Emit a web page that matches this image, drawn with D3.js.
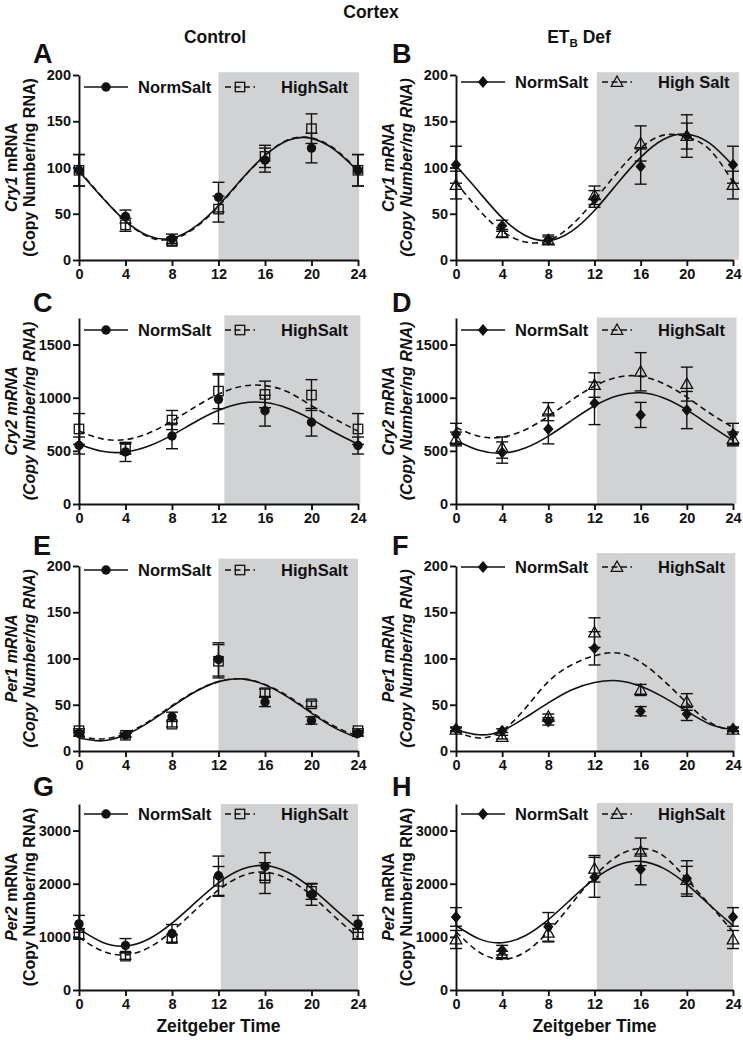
<!DOCTYPE html>
<html>
<head>
<meta charset="utf-8">
<script src="https://cdn.jsdelivr.net/npm/d3@7"></script>
<style>
  body { margin: 0; background: #fff; }
  svg text { font-family: "Liberation Sans", Arial, sans-serif; font-weight: bold; fill: #111; }
</style>
</head>
<body>
<svg id="chart" width="743" height="1040"></svg>
<script>
// sampling times (Zeitgeber time, h) and times used for the fitted curves
const hours = [0, 4, 8, 12, 16, 20, 24];
const fitHours = [0, 2, 4, 6, 8, 10, 12, 14, 16, 18, 20, 22, 24];
const xTicks = [0, 4, 8, 12, 16, 20, 24];
const ticks200 = [0, 50, 100, 150, 200];
const ticks1500 = [0, 500, 1000, 1500];
const ticks3000 = [0, 1000, 2000, 3000];

// A: Cry1, control
const normA = [97, 47, 23, 68, 108, 121, 97];
const normAErr = [17, 7, 5, 16, 13, 16, 17];
const highA = [97, 38, 20, 55, 112, 142, 97];
const highAErr = [17, 7, 4, 14, 12, 16, 17];
const fitNormA = [96, 67.5, 42, 26, 23.5, 36, 59, 87.5, 113, 129.5, 131.5, 119, 96];
const fitHighA = [97, 68, 42, 25, 22.5, 35, 58, 87, 113, 130, 132, 120, 97];

// B: Cry1, ETB def
const normB = [103, 37, 22, 66, 101, 134, 103];
const normBErr = [20, 6, 5, 9, 19, 14, 20];
const highB = [81, 29, 21, 70, 126, 134, 81];
const highBErr = [15, 4, 4, 10, 19, 23, 15];
const fitNormB = [102, 73.5, 45.5, 26.5, 21, 31, 53.5, 83, 111, 130.5, 136, 126, 102];
const fitHighB = [84, 54, 31, 19.5, 21, 37.5, 64.5, 95, 121, 135, 133, 119, 84];

// C: Cry2, control
const normC = [550, 490, 640, 985, 878, 769, 550];
const normCErr = [80, 90, 120, 230, 145, 130, 80];
const highC = [706, 519, 790, 1062, 1031, 1025, 706];
const highCErr = [145, 50, 90, 165, 125, 145, 145];
const fitNormC = [563, 496, 489, 545, 648, 772, 881, 948, 955, 899, 796, 672, 563];
const fitHighC = [686, 613, 606, 667, 780, 914, 1034, 1107, 1114, 1053, 925, 800, 686];

// D: Cry2, ETB def
const normD = [659, 484, 706, 947, 838, 884, 659];
const normDErr = [100, 100, 140, 200, 118, 175, 100];
const highD = [612, 531, 869, 1119, 1244, 1128, 612];
const highDErr = [65, 100, 85, 115, 180, 160, 65];
const fitNormD = [598, 505, 478, 527, 639, 784, 924, 1019, 1046, 997, 885, 740, 598];
const fitHighD = [720, 637, 629, 698, 825, 976, 1110, 1193, 1201, 1132, 1005, 854, 720];

// E: Per1, control
const normE = [19, 17, 37, 99, 53, 33, 19];
const normEErr = [3, 2, 5, 18, 5, 4, 3];
const highE = [22, 17, 29, 97, 63, 51, 22];
const highEErr = [2, 2, 3, 18, 4, 3, 2];
const fitNormE = [14, 11, 17.5, 31, 48, 64, 75, 78, 71.5, 58, 41, 25, 14];
const fitHighE = [16, 13, 19, 32, 49, 64.5, 75, 78, 72, 59, 42, 26.5, 16];

// F: Per1, ETB def
const normF = [24, 22, 32, 111, 43, 40, 24];
const normFErr = [2, 2, 4, 18, 5, 7, 2];
const highF = [23, 15, 37, 128, 66, 53, 23];
const highFErr = [2, 2, 3, 16, 6, 9, 2];
const fitNormF = [23, 17.5, 22, 36, 52, 66, 74, 76, 70, 58, 43, 29, 23];
const fitHighF = [21.5, 14, 22, 46, 75, 93, 103, 106, 96, 76, 52, 31, 21.5];

// G: Per2, control
const normG = [1244, 838, 1062, 2150, 2325, 1794, 1244];
const normGErr = [160, 130, 170, 370, 260, 200, 160];
const highG = [1056, 637, 969, 2044, 2106, 1856, 1056];
const highGErr = [100, 60, 70, 280, 290, 150, 100];
const fitNormG = [1149, 899, 827, 959, 1257, 1644, 2017, 2271, 2343, 2211, 1913, 1526, 1149];
const fitHighG = [992, 736, 662, 797, 1104, 1501, 1883, 2144, 2218, 2083, 1776, 1379, 992];

// H: Per2, ETB def
const normH = [1375, 750, 1188, 2120, 2270, 2098, 1375];
const normHErr = [175, 90, 270, 375, 290, 335, 175];
const highH = [950, 669, 1075, 2281, 2600, 2067, 950];
const highHErr = [170, 60, 170, 250, 260, 260, 170];
const fitNormH = [1214, 962, 889, 1022, 1324, 1715, 2091, 2349, 2421, 2288, 1986, 1595, 1214];
const fitHighH = [1097, 715, 575, 715, 1097, 1618, 2140, 2521, 2661, 2521, 2080, 1600, 1097];

const svg = d3.select("#chart");
const cols = [{ x0: 79, x1: 358 }, { x0: 456, x1: 733 }];
const rows = [{ top: 75, bottom: 260 }, { top: 318, bottom: 504 }, { top: 566, bottom: 751 }, { top: 804, bottom: 990 }];
const letterY = [63, 312, 555, 796];

const panels = [
  { letter: "A", col: 0, row: 0, gene: "Cry1", italic: false, yMax: 200, yTicks: ticks200,
    norm: normA, normErr: normAErr, high: highA, highErr: highAErr, fitNorm: fitNormA, fitHigh: fitHighA,
    highLabel: "HighSalt", shade: [12, 24.1, 203], legendDy: 12 },
  { letter: "B", col: 1, row: 0, gene: "Cry1", italic: true, yMax: 200, yTicks: ticks200,
    norm: normB, normErr: normBErr, high: highB, highErr: highBErr, fitNorm: fitNormB, fitHigh: fitHighB,
    highLabel: "High Salt", shade: [12.2, 24.5, 203], legendDy: 7 },
  { letter: "C", col: 0, row: 1, gene: "Cry2", italic: true, yMax: 1750, yTicks: ticks1500,
    norm: normC, normErr: normCErr, high: highC, highErr: highCErr, fitNorm: fitNormC, fitHigh: fitHighC,
    highLabel: "HighSalt", shade: [12.5, 24.2, 1775], legendDy: 12 },
  { letter: "D", col: 1, row: 1, gene: "Cry2", italic: true, yMax: 1750, yTicks: ticks1500,
    norm: normD, normErr: normDErr, high: highD, highErr: highDErr, fitNorm: fitNormD, fitHigh: fitHighD,
    highLabel: "HighSalt", shade: [12.2, 24.3, 1755], legendDy: 12 },
  { letter: "E", col: 0, row: 2, gene: "Per1", italic: true, yMax: 200, yTicks: ticks200,
    norm: normE, normErr: normEErr, high: highE, highErr: highEErr, fitNorm: fitNormE, fitHigh: fitHighE,
    highLabel: "HighSalt", shade: [12, 24, 208], legendDy: 4 },
  { letter: "F", col: 1, row: 2, gene: "Per1", italic: true, yMax: 200, yTicks: ticks200,
    norm: normF, normErr: normFErr, high: highF, highErr: highFErr, fitNorm: fitNormF, fitHigh: fitHighF,
    highLabel: "HighSalt", shade: [12.2, 24.2, 214], legendDy: 1 },
  { letter: "G", col: 0, row: 3, gene: "Per2", italic: false, yMax: 3500, yTicks: ticks3000,
    norm: normG, normErr: normGErr, high: highG, highErr: highGErr, fitNorm: fitNormG, fitHigh: fitHighG,
    highLabel: "HighSalt", shade: [12.2, 24, 3500], legendDy: 10 },
  { letter: "H", col: 1, row: 3, gene: "Per2", italic: false, yMax: 3500, yTicks: ticks3000,
    norm: normH, normErr: normHErr, high: highH, highErr: highHErr, fitNorm: fitNormH, fitHigh: fitHighH,
    highLabel: "HighSalt", shade: [12.2, 24, 3520], legendDy: 10 }
];

// marker shapes: filled circle / open square (control), filled diamond / open triangle (ETB def)
function marker(g, kind, cx, cy) {
  if (kind === "circle") {
    g.append("circle").attr("cx", cx).attr("cy", cy).attr("r", 4.7).attr("fill", "#111");
  } else if (kind === "square") {
    g.append("rect").attr("x", cx - 4.7).attr("y", cy - 4.7).attr("width", 9.4).attr("height", 9.4)
      .attr("fill", "none").attr("stroke", "#111").attr("stroke-width", 1.3);
  } else if (kind === "diamond") {
    g.append("path").attr("d", `M${cx},${cy - 6}L${cx + 5.2},${cy}L${cx},${cy + 6}L${cx - 5.2},${cy}Z`)
      .attr("fill", "#111");
  } else {
    g.append("path").attr("d", `M${cx},${cy - 6}L${cx + 5.8},${cy + 4.3}L${cx - 5.8},${cy + 4.3}Z`)
      .attr("fill", "none").attr("stroke", "#111").attr("stroke-width", 1.3);
  }
}

panels.forEach(p => {
  const c = cols[p.col], r = rows[p.row];
  const x = d3.scaleLinear().domain([0, 24]).range([c.x0, c.x1]);
  const y = d3.scaleLinear().domain([0, p.yMax]).range([r.bottom, r.top]);
  const g = svg.append("g");
  const kinds = p.col === 0 ? ["circle", "square"] : ["diamond", "triangle"];

  // dark phase shading
  g.append("rect")
    .attr("x", x(p.shade[0])).attr("y", y(p.shade[2]))
    .attr("width", x(p.shade[1]) - x(p.shade[0]))
    .attr("height", y(0) - y(p.shade[2]))
    .attr("fill", "#d1d2d4");

  // fitted curves
  const line = d3.line().x((d, i) => x(fitHours[i])).y(d => y(d)).curve(d3.curveNatural);
  g.append("path").attr("d", line(p.fitNorm))
    .attr("fill", "none").attr("stroke", "#111").attr("stroke-width", 1.6);
  g.append("path").attr("d", line(p.fitHigh))
    .attr("fill", "none").attr("stroke", "#111").attr("stroke-width", 1.6)
    .attr("stroke-dasharray", "6,4");

  // error bars + points
  [[p.high, p.highErr, kinds[1]], [p.norm, p.normErr, kinds[0]]].forEach(([vals, errs, kind]) => {
    vals.forEach((v, i) => {
      const cx = x(hours[i]);
      const yt = y(v + errs[i]), yb = y(v - errs[i]);
      g.append("line").attr("x1", cx).attr("x2", cx).attr("y1", yt).attr("y2", yb)
        .attr("stroke", "#111").attr("stroke-width", 1.4);
      [yt, yb].forEach(yy => g.append("line").attr("x1", cx - 6).attr("x2", cx + 6)
        .attr("y1", yy).attr("y2", yy).attr("stroke", "#111").attr("stroke-width", 1.4));
      marker(g, kind, cx, y(v));
    });
  });

  // axes
  const xAxis = g.append("g").attr("transform", `translate(0,${r.bottom})`)
    .call(d3.axisBottom(x).tickValues(xTicks).tickSize(6).tickSizeOuter(0).tickPadding(3));
  const yAxis = g.append("g").attr("transform", `translate(${c.x0},0)`)
    .call(d3.axisLeft(y).tickValues(p.yTicks).tickFormat(d3.format("d"))
      .tickSize(6).tickSizeOuter(0).tickPadding(2));
  [xAxis, yAxis].forEach(a => {
    a.attr("font-family", null).attr("font-size", null);
    a.selectAll("path, line").attr("stroke", "#111").attr("stroke-width", 1.9);
    a.selectAll("text").style("font-size", "14.5px").attr("fill", "#111");
  });

  // legend
  const ly = r.top + p.legendDy;
  g.append("line").attr("x1", c.x0 + 5).attr("x2", c.x0 + 49).attr("y1", ly).attr("y2", ly)
    .attr("stroke", "#111").attr("stroke-width", 1.6);
  marker(g, kinds[0], c.x0 + 27, ly);
  g.append("text").attr("x", c.x0 + 59).attr("y", ly + 6).style("font-size", "16.5px").text("NormSalt");
  g.append("line").attr("x1", c.x0 + 146).attr("x2", c.x0 + 176).attr("y1", ly).attr("y2", ly)
    .attr("stroke", "#111").attr("stroke-width", 1.6).attr("stroke-dasharray", "6,3.5");
  marker(g, kinds[1], c.x0 + 161, ly);
  g.append("text").attr("x", c.x0 + 202).attr("y", ly + 6).style("font-size", "16.5px").text(p.highLabel);

  // y axis title (two lines)
  const cy = (r.top + r.bottom) / 2;
  const t1 = g.append("text").attr("transform", `translate(${c.x0 - 62},${cy}) rotate(-90)`)
    .attr("text-anchor", "middle").style("font-size", "16px");
  t1.append("tspan").style("font-style", "italic").text(p.gene);
  t1.append("tspan").style("font-style", p.italic ? "italic" : "normal").text(" mRNA");
  g.append("text").attr("transform", `translate(${c.x0 - 44},${cy}) rotate(-90)`)
    .attr("text-anchor", "middle").style("font-size", "16px")
    .style("font-style", p.italic ? "italic" : "normal")
    .text("(Copy Number/ng RNA)");

  // panel letter
  svg.append("text").attr("x", p.col === 0 ? 33 : 392).attr("y", letterY[p.row])
    .style("font-size", "27px").text(p.letter);

  if (p.row === 3) {
    svg.append("text").attr("x", (c.x0 + c.x1) / 2).attr("y", 1032)
      .attr("text-anchor", "middle").style("font-size", "17.5px").text("Zeitgeber Time");
  }
});

// titles
svg.append("text").attr("x", 371).attr("y", 18).attr("text-anchor", "middle")
  .style("font-size", "17.5px").text("Cortex");
svg.append("text").attr("x", 215).attr("y", 43).attr("text-anchor", "middle")
  .style("font-size", "17.5px").text("Control");
const et = svg.append("text").attr("x", 579).attr("y", 43).attr("text-anchor", "middle")
  .style("font-size", "17.5px");
et.append("tspan").text("ET");
et.append("tspan").attr("dy", 4).style("font-size", "11.5px").text("B");
et.append("tspan").attr("dy", -4).text(" Def");
</script>
</body>
</html>
